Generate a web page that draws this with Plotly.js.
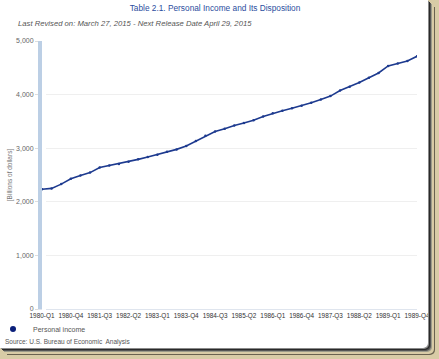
<!DOCTYPE html>
<html>
<head>
<meta charset="utf-8">
<script src="https://cdn.plot.ly/plotly-3.0.1.min.js"></script>
<style>
  html, body { margin: 0; padding: 0; background: #d8cba6; }
  #wrap { position: relative; width: 439px; height: 359px; background: #d8cba6; overflow: hidden; }
  #chart { position: absolute; left: 0; top: 0; width: 428px; height: 348px; background: #fff;
           border-bottom-right-radius: 5px;
           box-shadow: 1px 1px 0 #8a8a8a, 2px 2px 0 #2a2a2a, 3px 3px 0 #555, 4px 4px 0 #9a9a8a, 6px 6px 0 #d8cba6, 7px 7px 0 #6a6250; }
</style>
</head>
<body>
<div id="wrap"><div id="chart"></div></div>
<script>
// Categories: quarters 1980-Q1 .. 1989-Q4
var years = [1980, 1981, 1982, 1983, 1984, 1985, 1986, 1987, 1988, 1989];
var quarters = ["Q1", "Q2", "Q3", "Q4"];
var categories = [];
years.forEach(function (y) { quarters.forEach(function (q) { categories.push(y + "-" + q); }); });

// Personal income, billions of dollars
var personalIncome = [
  2233, 2250, 2330, 2430, 2490, 2545, 2640, 2677, 2706, 2745,
  2792, 2837, 2880, 2935, 2978, 3040, 3135, 3230, 3310, 3365,
  3425, 3470, 3520, 3590, 3650, 3698, 3745, 3790, 3848, 3908,
  3972, 4075, 4147, 4226, 4315, 4403, 4535, 4582, 4628, 4715
];

// Tick labels every third quarter
var tickLabels = ["1980-Q1", "1980-Q4", "1981-Q3", "1982-Q2", "1983-Q1", "1983-Q4", "1984-Q3",
                  "1985-Q2", "1986-Q1", "1986-Q4", "1987-Q3", "1988-Q2", "1989-Q1", "1989-Q4"];
var yTickVals = [0, 1000, 2000, 3000, 4000, 5000];
var yTickText = ["0", "1,000", "2,000", "3,000", "4,000", "5,000"];

var seriesName = "Personal income";
var titleText = "Table 2.1. Personal Income and Its Disposition";
var subtitleText = "Last Revised on: March 27, 2015 - Next Release Date April 29, 2015";
var sourceText = "Source: U.S. Bureau of Economic&nbsp; Analysis";
var yTitle = "[Billions of dollars]";

var W = 428, H = 348;
var mL = 42, mR = 11, mT = 41, mB = 39;
var pw = W - mL - mR, ph = H - mT - mB;
function px2paperX(px) { return (px - mL) / pw; }
function px2paperY(py) { return (H - mB - py) / ph; }

var navy = "#1d3a8f";
var font = "Liberation Sans, Arial, sans-serif";

var traces = [
  {
    x: categories, y: personalIncome, type: "scatter", mode: "lines+markers",
    name: seriesName, showlegend: false,
    line: { color: navy, width: 1.6 },
    marker: { color: navy, size: 2.5 }
  },
  {
    x: [null], y: [null], type: "scatter", mode: "markers",
    name: seriesName, showlegend: true,
    marker: { color: "#0a1f7a", size: 6, symbol: "circle" }
  }
];

var layout = {
  width: W, height: H,
  paper_bgcolor: "rgba(0,0,0,0)", plot_bgcolor: "#fff",
  margin: { l: mL, r: mR, t: mT, b: mB, pad: 0, autoexpand: false },
  font: { family: font, size: 7, color: "#555" },
  title: {
    text: titleText, xref: "container", x: 215 / W, xanchor: "center",
    yref: "container", y: 1 - 8 / H, yanchor: "middle",
    font: { family: font, size: 8.3, color: "#2b4d9e" }
  },
  xaxis: {
    type: "category", range: [0, 39],
    tickmode: "array", tickvals: tickLabels, ticktext: tickLabels, tickangle: 0,
    showgrid: false, zeroline: false,
    showline: true, linecolor: "#dfe5ee", linewidth: 1,
    ticks: "", tickfont: { family: font, size: 6.4, color: "#333" },
    automargin: false
  },
  yaxis: {
    range: [0, 5000], tickmode: "array", tickvals: yTickVals, ticktext: yTickText,
    showgrid: true, gridcolor: "#efefef", gridwidth: 1, zeroline: false,
    showline: true, linecolor: "#bccfe5", linewidth: 4,
    ticks: "outside", ticklen: 3, tickcolor: "#dddddd",
    minor: { dtick: 500, ticks: "inside", ticklen: 4, tickcolor: "#ffffff", showgrid: false },
    tickfont: { family: font, size: 7, color: "#666" },
    title: { text: yTitle, standoff: 4, font: { family: font, size: 6.5, color: "#777" } },
    automargin: false
  },
  showlegend: true,
  legend: {
    orientation: "h", x: px2paperX(-7), xanchor: "left", y: px2paperY(329), yanchor: "middle",
    font: { family: font, size: 7, color: "#555" }, bgcolor: "rgba(0,0,0,0)", borderwidth: 0,
    itemwidth: 30
  },
  annotations: [
    {
      text: subtitleText, xref: "paper", yref: "paper", x: px2paperX(16), y: px2paperY(24),
      xanchor: "left", yanchor: "middle", showarrow: false,
      font: { family: font, size: 7.7, color: "#555", style: "italic" }
    },
    {
      text: sourceText, xref: "paper", yref: "paper", x: px2paperX(3), y: px2paperY(342),
      xanchor: "left", yanchor: "middle", showarrow: false,
      font: { family: font, size: 6.5, color: "#555" }
    }
  ]
};

Plotly.newPlot("chart", traces, layout, { displayModeBar: false, staticPlot: true });
</script>
</body>
</html>
